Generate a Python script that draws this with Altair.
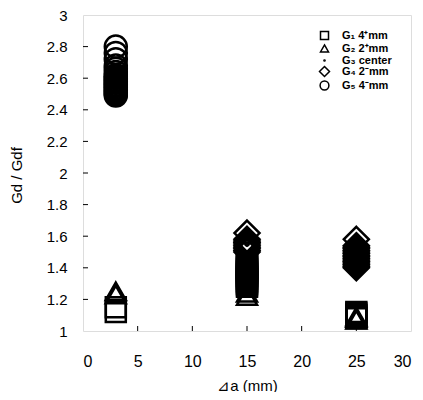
import altair as alt
import pandas as pd

# ---- data ----
groups = ["G₁ 4⁺mm", "G₂ 2⁺mm", "G₃ center", "G₄ 2⁻mm", "G₅ 4⁻mm"]

g1_x = [3, 3,
        15, 15, 15, 15, 15, 15, 15, 15, 15, 15, 15, 15, 15, 15, 15, 15, 15,
        25, 25, 25, 25, 25]
g1_y = [1.12, 1.15,
        1.28, 1.29, 1.30, 1.31, 1.32, 1.33, 1.34, 1.35, 1.36, 1.37, 1.38, 1.39,
        1.40, 1.41, 1.42, 1.43, 1.44,
        1.08, 1.09, 1.10, 1.11, 1.12]

g2_x = [3, 3, 15, 15, 25, 25, 25]
g2_y = [1.23, 1.25, 1.22, 1.24, 1.07, 1.08, 1.09]

g3_x = [15, 15, 25, 25]
g3_y = [1.48, 1.55, 1.46, 1.52]

g4_x = [15, 15, 15, 15, 15, 15, 15, 15, 15, 15,
        25, 25, 25, 25, 25, 25, 25, 25, 25, 25, 25, 25, 25, 25, 25, 25]
g4_y = [1.50, 1.51, 1.52, 1.53, 1.54, 1.55, 1.56, 1.57, 1.58, 1.62,
        1.40, 1.41, 1.42, 1.43, 1.44, 1.45, 1.46, 1.47, 1.48, 1.49, 1.50, 1.51, 1.52,
        1.53, 1.54, 1.58]

g5_x = [3] * 20
g5_y = [2.49, 2.50, 2.51, 2.52, 2.53, 2.54, 2.55, 2.56, 2.57, 2.58,
        2.59, 2.60, 2.61, 2.62, 2.64, 2.66, 2.68, 2.72, 2.76, 2.80]

y_labels = [1, 1.2, 1.4, 1.6, 1.8, 2, 2.2, 2.4, 2.6, 2.8, 3]
x_labels = [0, 5, 10, 15, 20, 25, 30]
y_ticks = [1.2, 1.4, 1.6, 1.8, 2.0, 2.2, 2.4, 2.6, 2.8]
x_ticks = [5, 10, 15, 20, 25]

rows = []
for g, xs, ys in [(groups[0], g1_x, g1_y), (groups[1], g2_x, g2_y),
                  (groups[3], g4_x, g4_y), (groups[2], g3_x, g3_y),
                  (groups[4], g5_x, g5_y)]:
    for xv, yv in zip(xs, ys):
        rows.append({"g": g, "x": xv, "y": yv})
df = pd.DataFrame(rows)

# marker outlines (unit = half of sqrt(size))
shapes = [
    "M-1,-1H1V1H-1Z",
    "M0,-0.9L1,0.85L-1,0.85Z",
    "M-0.15,0A0.15,0.15 0 1,0 0.15,0A0.15,0.15 0 1,0 -0.15,0Z",
    "M0,-1.25L1.25,0L0,1.25L-1.25,0Z",
    "M-1.1,0A1.1,1.1 0 1,0 1.1,0A1.1,1.1 0 1,0 -1.1,0Z",
]

FONT = "Liberation Sans"
W, H = 328, 316

xscale = alt.Scale(domain=[0, 30], nice=False, zero=False)
yscale = alt.Scale(domain=[1, 3], nice=False, zero=False)

xaxis = alt.Axis(values=x_labels, title="⊿a (mm)",
                 format="~g", grid=False, ticks=False, tickSize=0,
                 domain=False, labelFont=FONT, labelFontSize=16,
                 labelPadding=22, labelColor="black", labelOverlap=False,
                 titleFont=FONT, titleFontSize=15, titleFontWeight="normal",
                 titleColor="black", titleY=54, titleBaseline="middle")
yaxis = alt.Axis(values=y_labels, tickCount=11,
                 title="Gd / Gdf", format="~g", grid=False, ticks=False,
                 tickSize=0, domain=False, labelFont=FONT,
                 labelFontSize=15, labelPadding=16, labelColor="black",
                 labelOverlap=False,
                 titleFont=FONT, titleFontSize=15, titleFontWeight="normal",
                 titleColor="black", titleX=-67, titleY=160,
                 titleAngle=270, titleBaseline="middle", titleAlign="center")

points = alt.Chart(df).mark_point(filled=False, size=400, strokeWidth=2.5,
                                  color="black", opacity=1).encode(
    x=alt.X("x:Q", scale=xscale, axis=xaxis),
    y=alt.Y("y:Q", scale=yscale, axis=yaxis),
    shape=alt.Shape("g:N", scale=alt.Scale(domain=groups, range=shapes),
                    legend=alt.Legend(title=None, orient="none", legendX=236,
                                      legendY=15, labelFont=FONT, labelFontSize=11,
                                      labelFontWeight="bold", labelColor="black",
                                      symbolSize=64, symbolStrokeWidth=1.5,
                                      symbolStrokeColor="black", labelOffset=12,
                                      rowPadding=-7, padding=0)),
)

yt = alt.Chart(pd.DataFrame({"y": y_ticks})).mark_rule(color="black", strokeWidth=1).encode(
    y=alt.Y("y:Q", scale=yscale, axis=yaxis),
    x=alt.value(0), x2=alt.value(5),
)
xt = alt.Chart(pd.DataFrame({"x": x_ticks})).mark_rule(color="black", strokeWidth=1).encode(
    x=alt.X("x:Q", scale=xscale, axis=xaxis),
    y=alt.value(H), y2=alt.value(H - 5),
)

chart = alt.layer(points, yt, xt).properties(
    width=W, height=H,
    autosize=alt.AutoSizeParams(type="none"),
    padding={"left": 75, "top": 7, "right": 4, "bottom": 61},
).configure_view(stroke="black", strokeWidth=2).configure_axis(
    labelOverlap=False
).configure(background="white")

chart.save("out.html", embed_options={"renderer": "svg", "actions": False})
